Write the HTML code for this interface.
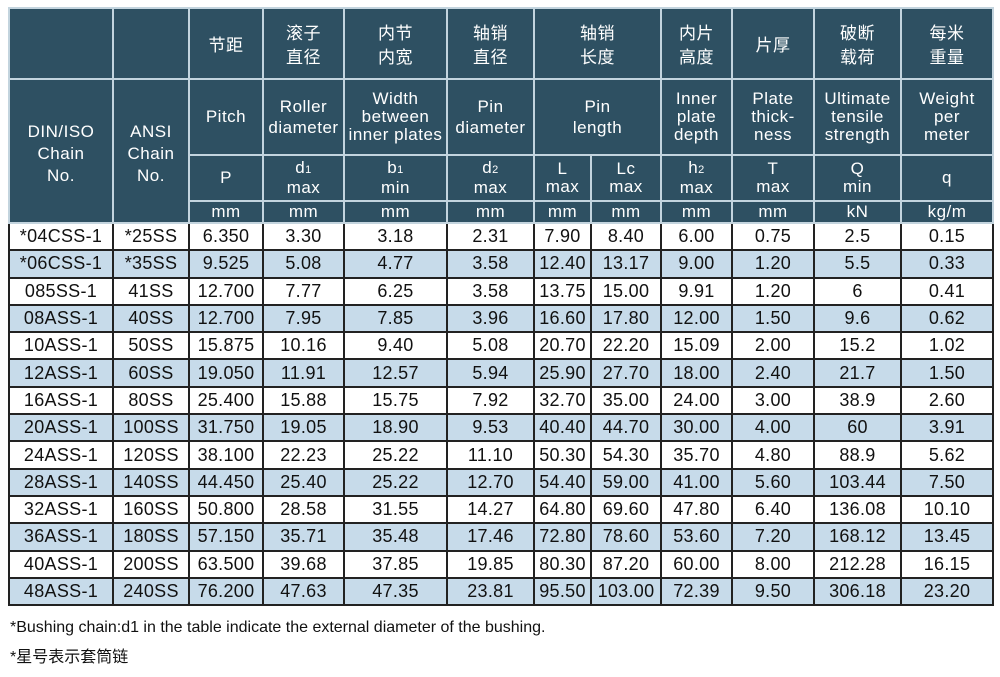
<!DOCTYPE html>
<html><head><meta charset="utf-8"><style>
body{margin:0;background:#fff;width:1000px;height:677px;overflow:hidden;font-family:"Liberation Sans","Noto Sans CJK SC",sans-serif;}
table{position:absolute;left:8px;top:7px;border-collapse:collapse;table-layout:fixed;width:984px;border:2px solid #222;}
th{background:#2e5062;color:#fff;font-weight:normal;font-size:17px;line-height:18px;border:2px solid #c3d4de;padding:0;text-align:center;letter-spacing:0.5px}
th.t{line-height:21px}
th.k{line-height:22px;padding-top:6px}
td{border:2px solid #222;font-size:18px;text-align:center;padding:0;letter-spacing:0.3px;color:#111}
tr.d{height:27.3px}
tr.b td{background:#c7dbea}
.cn{font-family:"Noto Sans CJK SC",sans-serif;line-height:24px}
sub{font-size:11px;vertical-align:baseline}
.f{position:absolute;left:10px;font-size:16px;color:#111}
</style></head><body>
<table>
<colgroup><col style="width:104px"><col style="width:76px"><col style="width:74px"><col style="width:81px"><col style="width:103px"><col style="width:87px"><col style="width:57px"><col style="width:70px"><col style="width:71px"><col style="width:82px"><col style="width:87px"><col style="width:92px"></colgroup>
<tr style="height:71px"><th></th><th></th><th class="cn">节距</th><th class="cn">滚子<br>直径</th><th class="cn">内节<br>内宽</th><th class="cn">轴销<br>直径</th><th colspan="2" class="cn">轴销<br>长度</th><th class="cn">内片<br>高度</th><th class="cn">片厚</th><th class="cn">破断<br>载荷</th><th class="cn">每米<br>重量</th></tr>
<tr style="height:76px"><th rowspan="3" class="k">DIN/ISO<br>Chain<br>No.</th><th rowspan="3" class="k">ANSI<br>Chain<br>No.</th><th>Pitch</th><th class="t">Roller<br>diameter</th><th>Width<br>between<br>inner plates</th><th class="t">Pin<br>diameter</th><th colspan="2" class="t">Pin<br>length</th><th>Inner<br>plate<br>depth</th><th>Plate<br>thick-<br>ness</th><th>Ultimate<br>tensile<br>strength</th><th>Weight<br>per<br>meter</th></tr>
<tr style="height:46px"><th>P</th><th>d<sub>1</sub><br>max</th><th>b<sub>1</sub><br>min</th><th>d<sub>2</sub><br>max</th><th>L<br>max</th><th>Lc<br>max</th><th>h<sub>2</sub><br>max</th><th>T<br>max</th><th>Q<br>min</th><th>q</th></tr>
<tr style="height:22px"><th>mm</th><th>mm</th><th>mm</th><th>mm</th><th>mm</th><th>mm</th><th>mm</th><th>mm</th><th>kN</th><th>kg/m</th></tr>
<tr class="d"><td>*04CSS-1</td><td>*25SS</td><td>6.350</td><td>3.30</td><td>3.18</td><td>2.31</td><td>7.90</td><td>8.40</td><td>6.00</td><td>0.75</td><td>2.5</td><td>0.15</td></tr>
<tr class="d b"><td>*06CSS-1</td><td>*35SS</td><td>9.525</td><td>5.08</td><td>4.77</td><td>3.58</td><td>12.40</td><td>13.17</td><td>9.00</td><td>1.20</td><td>5.5</td><td>0.33</td></tr>
<tr class="d"><td>085SS-1</td><td>41SS</td><td>12.700</td><td>7.77</td><td>6.25</td><td>3.58</td><td>13.75</td><td>15.00</td><td>9.91</td><td>1.20</td><td>6</td><td>0.41</td></tr>
<tr class="d b"><td>08ASS-1</td><td>40SS</td><td>12.700</td><td>7.95</td><td>7.85</td><td>3.96</td><td>16.60</td><td>17.80</td><td>12.00</td><td>1.50</td><td>9.6</td><td>0.62</td></tr>
<tr class="d"><td>10ASS-1</td><td>50SS</td><td>15.875</td><td>10.16</td><td>9.40</td><td>5.08</td><td>20.70</td><td>22.20</td><td>15.09</td><td>2.00</td><td>15.2</td><td>1.02</td></tr>
<tr class="d b"><td>12ASS-1</td><td>60SS</td><td>19.050</td><td>11.91</td><td>12.57</td><td>5.94</td><td>25.90</td><td>27.70</td><td>18.00</td><td>2.40</td><td>21.7</td><td>1.50</td></tr>
<tr class="d"><td>16ASS-1</td><td>80SS</td><td>25.400</td><td>15.88</td><td>15.75</td><td>7.92</td><td>32.70</td><td>35.00</td><td>24.00</td><td>3.00</td><td>38.9</td><td>2.60</td></tr>
<tr class="d b"><td>20ASS-1</td><td>100SS</td><td>31.750</td><td>19.05</td><td>18.90</td><td>9.53</td><td>40.40</td><td>44.70</td><td>30.00</td><td>4.00</td><td>60</td><td>3.91</td></tr>
<tr class="d"><td>24ASS-1</td><td>120SS</td><td>38.100</td><td>22.23</td><td>25.22</td><td>11.10</td><td>50.30</td><td>54.30</td><td>35.70</td><td>4.80</td><td>88.9</td><td>5.62</td></tr>
<tr class="d b"><td>28ASS-1</td><td>140SS</td><td>44.450</td><td>25.40</td><td>25.22</td><td>12.70</td><td>54.40</td><td>59.00</td><td>41.00</td><td>5.60</td><td>103.44</td><td>7.50</td></tr>
<tr class="d"><td>32ASS-1</td><td>160SS</td><td>50.800</td><td>28.58</td><td>31.55</td><td>14.27</td><td>64.80</td><td>69.60</td><td>47.80</td><td>6.40</td><td>136.08</td><td>10.10</td></tr>
<tr class="d b"><td>36ASS-1</td><td>180SS</td><td>57.150</td><td>35.71</td><td>35.48</td><td>17.46</td><td>72.80</td><td>78.60</td><td>53.60</td><td>7.20</td><td>168.12</td><td>13.45</td></tr>
<tr class="d"><td>40ASS-1</td><td>200SS</td><td>63.500</td><td>39.68</td><td>37.85</td><td>19.85</td><td>80.30</td><td>87.20</td><td>60.00</td><td>8.00</td><td>212.28</td><td>16.15</td></tr>
<tr class="d b"><td>48ASS-1</td><td>240SS</td><td>76.200</td><td>47.63</td><td>47.35</td><td>23.81</td><td>95.50</td><td>103.00</td><td>72.39</td><td>9.50</td><td>306.18</td><td>23.20</td></tr>
</table>
<div class="f" style="top:619px">*Bushing chain:d1 in the table indicate the external diameter of the bushing.</div>
<div class="f" style="top:643px">*星号表示套筒链</div>
</body></html>
